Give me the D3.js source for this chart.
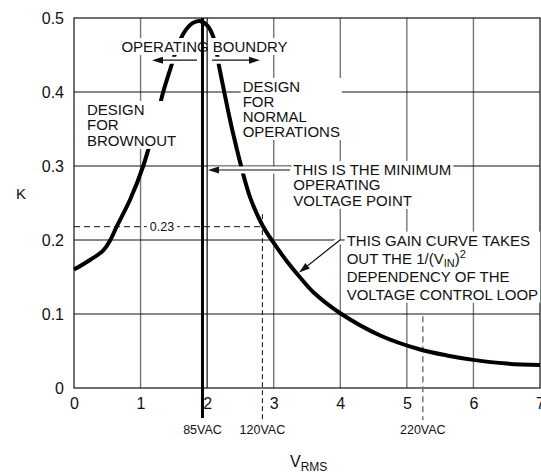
<!DOCTYPE html>
<html>
<head>
<meta charset="utf-8">
<script src="https://cdn.jsdelivr.net/npm/d3@7"></script>
<style>
  body { margin: 0; background: #fff; }
  svg { font-family: "Liberation Sans", Arial, Helvetica, sans-serif; }
</style>
</head>
<body>
<svg id="chart" width="541" height="474"></svg>
<script>
// gain curve K vs VRMS
const vrms  = [0, 0.24, 0.44, 0.54, 0.64, 0.84, 1.04, 1.2, 1.34, 1.45, 1.55, 1.65, 1.78, 1.89, 2.0, 2.09, 2.19, 2.39, 2.64, 2.83, 3.0, 3.2, 3.4, 3.6, 4.0, 4.6, 5.2, 5.6, 6.0, 6.5, 7];
const kGain = [0.160, 0.173, 0.186, 0.199, 0.218, 0.254, 0.300, 0.350, 0.400, 0.432, 0.460, 0.480, 0.493, 0.496, 0.490, 0.475, 0.430, 0.344, 0.259, 0.220, 0.196, 0.171, 0.149, 0.129, 0.101, 0.071, 0.052, 0.044, 0.038, 0.033, 0.031];

const xTicks = [0, 1, 2, 3, 4, 5, 6, 7];
const yTicks = [0, 0.1, 0.2, 0.3, 0.4, 0.5];
const yTickLabels = ["0", "0.1", "0.2", "0.3", "0.4", "0.5"];

// line voltage markers
const acLabels = ["85VAC", "120VAC", "220VAC"];
const acPos = [1.93, 2.83, 5.24];
const refK = 0.218;
const refLabel = "0.23";

const W = 541, H = 474;
const margin = {top: 18, right: 1, bottom: 86, left: 74};

const svg = d3.select('#chart');
const x = d3.scaleLinear().domain([0, 7]).range([margin.left, W - margin.right]);
const y = d3.scaleLinear().domain([0, 0.5]).range([H - margin.bottom, margin.top]);

const grid = svg.append('g');
const marks = svg.append('g');
const notes = svg.append('g');
const front = svg.append('g');

// vertical grid
grid.selectAll('line.vg')
  .data(xTicks.filter(d => d > 0 && d < 7 && d !== 2))
  .enter().append('line')
  .attr('x1', d => x(d)).attr('x2', d => x(d))
  .attr('y1', y(0)).attr('y2', y(0.5))
  .attr('stroke', '#777').attr('stroke-width', 1.4);

// horizontal grid
grid.selectAll('line.hg')
  .data(yTicks.filter(d => d > 0 && d < 0.5))
  .enter().append('line')
  .attr('x1', x(0)).attr('x2', x(7))
  .attr('y1', d => y(d)).attr('y2', d => y(d))
  .attr('stroke', '#111').attr('stroke-width', 1);

// frame
grid.append('rect')
  .attr('x', x(0)).attr('y', y(0.5))
  .attr('width', x(7) - x(0)).attr('height', y(0) - y(0.5))
  .attr('fill', 'none').attr('stroke', '#111').attr('stroke-width', 1.2);

// reference dashed lines
marks.append('line')
  .attr('x1', x(0)).attr('x2', x(acPos[1]))
  .attr('y1', y(refK)).attr('y2', y(refK))
  .attr('stroke', '#111').attr('stroke-width', 1).attr('stroke-dasharray', '6,4');
marks.append('line')
  .attr('x1', x(acPos[1])).attr('x2', x(acPos[1]))
  .attr('y1', y(0.235)).attr('y2', y(0) + 32)
  .attr('stroke', '#111').attr('stroke-width', 1).attr('stroke-dasharray', '5,3');
marks.append('line')
  .attr('x1', x(acPos[2])).attr('x2', x(acPos[2]))
  .attr('y1', y(0.097)).attr('y2', y(0) + 32)
  .attr('stroke', '#777').attr('stroke-width', 1.5).attr('stroke-dasharray', '6,4');

// curve
const line = d3.line()
  .x((d, i) => x(vrms[i]))
  .y(d => y(d))
  .curve(d3.curveCatmullRom.alpha(0.5));
marks.append('path')
  .datum(kGain)
  .attr('d', line)
  .attr('fill', 'none')
  .attr('stroke', '#000')
  .attr('stroke-width', 4);

// ---- annotations with white backgrounds
function block(lines, vx, ky, lh, anchor) {
  const g = notes.append('g');
  const bg = g.append('rect').attr('fill', '#fff');
  const t = g.append('text')
    .attr('x', x(vx)).attr('y', y(ky))
    .attr('font-size', 15)
    .attr('text-anchor', anchor || 'start')
    .attr('fill', '#111');
  lines.forEach((s, i) => {
    t.append('tspan').attr('x', x(vx)).attr('dy', i === 0 ? 0 : lh).text(s);
  });
  const b = t.node().getBBox();
  bg.attr('x', b.x - 2).attr('y', b.y).attr('width', b.width + 4).attr('height', b.height);
  return t;
}

function arrow(v1, k1, v2, k2) {
  const x1 = x(v1), y1 = y(k1), x2 = x(v2), y2 = y(k2);
  const a = Math.atan2(y2 - y1, x2 - x1);
  const len = 11, hw = 3.5;
  const bx = x2 - len * Math.cos(a), by = y2 - len * Math.sin(a);
  const p = [[x2, y2],
    [bx + hw * Math.sin(a), by - hw * Math.cos(a)],
    [bx - hw * Math.sin(a), by + hw * Math.cos(a)]];
  notes.append('line')
    .attr('x1', x1).attr('y1', y1).attr('x2', x2).attr('y2', y2)
    .attr('stroke', '#fff').attr('stroke-width', 7);
  notes.append('line')
    .attr('x1', x1).attr('y1', y1).attr('x2', bx).attr('y2', by)
    .attr('stroke', '#111').attr('stroke-width', 1.2);
  notes.append('path')
    .attr('d', d3.line()(p) + 'Z')
    .attr('fill', '#111');
}

block(["OPERATING BOUNDRY"], 1.96, 0.454, 15, 'middle');
arrow(1.848, 0.443, 1.172, 0.443);
arrow(2.073, 0.443, 2.794, 0.443);
block(["DESIGN", "FOR", "BROWNOUT"], 0.195, 0.369, 15.5);
block(["DESIGN", "FOR", "NORMAL", "OPERATIONS"], 2.534, 0.4, 15);
block(["THIS IS THE MINIMUM", "OPERATING", "VOLTAGE POINT"], 3.294, 0.288, 15.5);
arrow(3.245, 0.2946, 2.013, 0.2946);

// gain curve note with sub/superscript
const gt = block(["THIS GAIN CURVE TAKES"], 4.096, 0.1923, 18);
gt.append('tspan').attr('x', x(4.096)).attr('dy', 18).text('OUT THE 1/(V');
gt.append('tspan').attr('font-size', 11).attr('dy', 3).text('IN');
gt.append('tspan').attr('dy', -3).text(')');
gt.append('tspan').attr('font-size', 11).attr('dy', -6).text('2');
gt.append('tspan').attr('x', x(4.096)).attr('dy', 24).text('DEPENDENCY OF THE');
gt.append('tspan').attr('x', x(4.096)).attr('dy', 18).text('VOLTAGE CONTROL LOOP');
{
  const b = gt.node().getBBox();
  d3.select(gt.node().parentNode).select('rect')
    .attr('x', b.x - 2).attr('y', b.y).attr('width', b.width + 4).attr('height', b.height);
}
arrow(3.996, 0.2, 3.38, 0.156);

// 0.23 label on dashed line
{
  const g = notes.append('g');
  const bg = g.append('rect').attr('fill', '#fff');
  const t = g.append('text')
    .attr('x', x(1.322)).attr('y', y(refK) + 4.5)
    .attr('text-anchor', 'middle').attr('font-size', 12.5).attr('fill', '#111')
    .text(refLabel);
  const b = t.node().getBBox();
  bg.attr('x', b.x - 3).attr('y', b.y).attr('width', b.width + 6).attr('height', b.height);
}

// 85VAC thick line and the x=2 grid line in front
front.append('line')
  .attr('x1', x(2)).attr('x2', x(2))
  .attr('y1', y(0)).attr('y2', y(0.5))
  .attr('stroke', '#111').attr('stroke-width', 1.2);
front.append('line')
  .attr('x1', x(acPos[0])).attr('x2', x(acPos[0]))
  .attr('y1', y(0.5)).attr('y2', y(0) + 30)
  .attr('stroke', '#000').attr('stroke-width', 3);

// axes (labels only)
const xAxis = d3.axisBottom(x).tickValues(xTicks).tickSize(0).tickPadding(10).tickFormat(d3.format('d'));
const xg = svg.append('g').attr('transform', `translate(0,${y(0)})`).call(xAxis);
xg.select('.domain').remove();
xg.selectAll('text').attr('font-size', 16).attr('font-family', null).attr('fill', '#111');

const yAxis = d3.axisLeft(y).tickValues(yTicks).tickSize(0).tickPadding(10)
  .tickFormat((d, i) => yTickLabels[i]);
const yg = svg.append('g').attr('transform', `translate(${x(0)},0)`).call(yAxis);
yg.select('.domain').remove();
yg.selectAll('text').attr('font-size', 16).attr('font-family', null).attr('fill', '#111');

// AC line labels
svg.selectAll('text.ac')
  .data(acLabels)
  .enter().append('text')
  .attr('class', 'ac')
  .attr('x', (d, i) => x(acPos[i]))
  .attr('y', y(0) + 46)
  .attr('text-anchor', 'middle')
  .attr('font-size', 12.5)
  .attr('fill', '#111')
  .text(d => d);

// axis titles
svg.append('text')
  .attr('x', 21).attr('y', 199)
  .attr('text-anchor', 'middle').attr('font-size', 15).attr('fill', '#111')
  .text('K');
const xt = svg.append('text')
  .attr('x', 290).attr('y', 467)
  .attr('font-size', 16).attr('fill', '#111');
xt.append('tspan').text('V');
xt.append('tspan').attr('font-size', 12).attr('dy', 4).text('RMS');
</script>
</body>
</html>
